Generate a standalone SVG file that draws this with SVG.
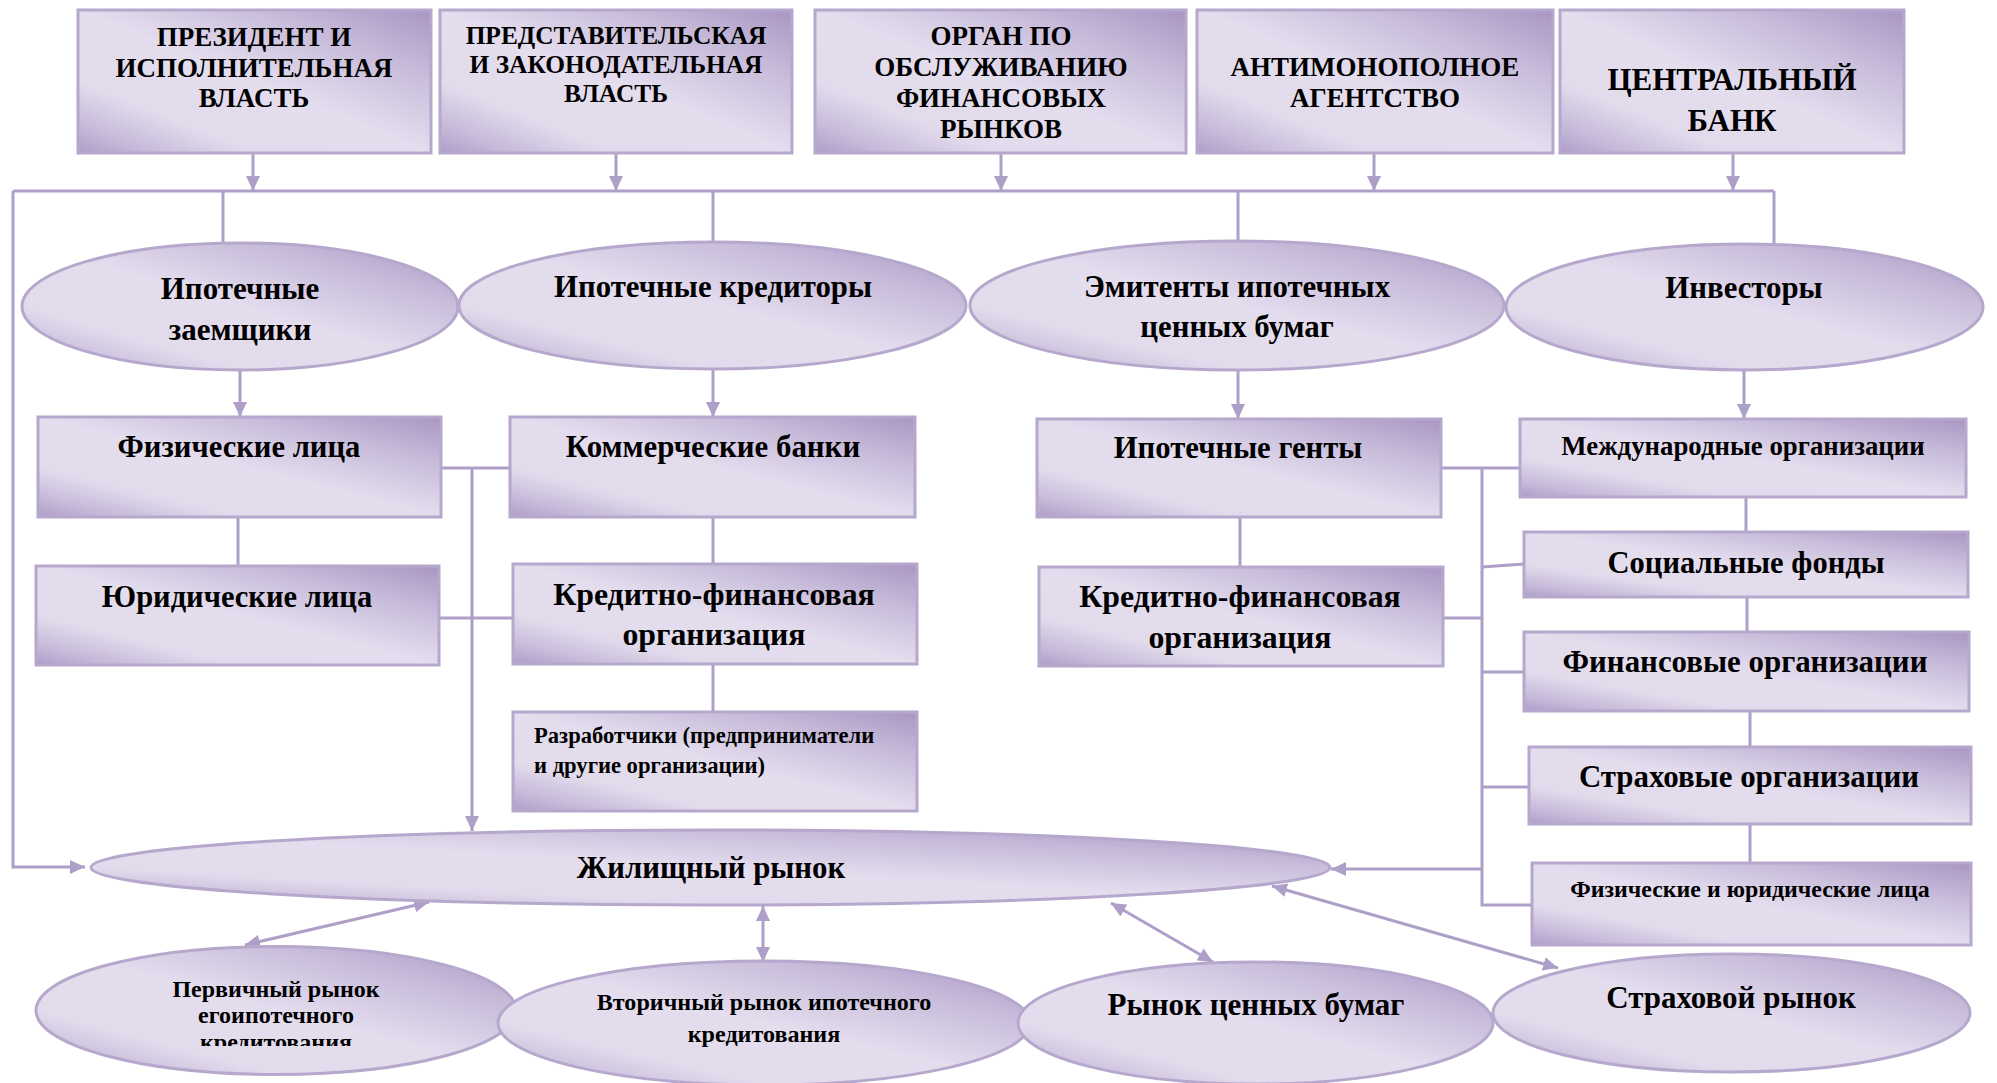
<svg xmlns="http://www.w3.org/2000/svg" width="1997" height="1083" viewBox="0 0 1997 1083">
<style>
.n{fill:url(#g);stroke:#b6a8cd;stroke-width:3}
.t{font-family:"Liberation Serif","Times New Roman",serif;font-weight:bold;fill:#000;text-anchor:middle}
.s{text-anchor:start}
.c{fill:none;stroke:#ae9fc9;stroke-width:3}
.a{marker-end:url(#ah)}
.d{marker-end:url(#ah);marker-start:url(#ah)}
</style>
<defs>
<linearGradient id="g" x1="1" y1="0" x2="0" y2="1">
<stop offset="0" stop-color="#a996c3"/>
<stop offset="0.25" stop-color="#c9bddb"/>
<stop offset="0.5" stop-color="#e4ddee"/>
<stop offset="0.75" stop-color="#e2dbec"/>
<stop offset="0.9" stop-color="#c6b9d9"/>
<stop offset="1" stop-color="#ae9dc8"/>
</linearGradient>
<marker id="ah" viewBox="0 0 15 14" refX="15" refY="7" markerWidth="15" markerHeight="14" markerUnits="userSpaceOnUse" orient="auto-start-reverse">
<path d="M0,0 L15,7 L0,14 z" fill="#ae9fc9"/>
</marker>
<clipPath id="cp1"><rect x="0" y="0" width="1997" height="1046"/></clipPath>
</defs>

<g id="connectors">
<path class="c a" d="M253,153 V191"/>
<path class="c a" d="M616,153 V191"/>
<path class="c a" d="M1001,153 V191"/>
<path class="c a" d="M1374,153 V191"/>
<path class="c a" d="M1733,153 V191"/>
<path class="c" d="M13,191 H1774"/>
<path class="c a" d="M13,191 V867 H85"/>
<path class="c" d="M223,191 V243"/>
<path class="c" d="M713,191 V242"/>
<path class="c" d="M1238,191 V241"/>
<path class="c" d="M1774,191 V244"/>
<path class="c a" d="M240,370 V417"/>
<path class="c a" d="M713,369 V417"/>
<path class="c a" d="M1238,370 V419"/>
<path class="c a" d="M1744,370 V419"/>
<path class="c" d="M441,468 H510"/>
<path class="c" d="M439,618 H513"/>
<path class="c a" d="M472,468 V831"/>
<path class="c" d="M238,517 V566"/>
<path class="c" d="M713,517 V564"/>
<path class="c" d="M713,664 V712"/>
<path class="c" d="M1240,517 V567"/>
<path class="c" d="M1441,468 H1520"/>
<path class="c" d="M1482,468 V905 H1532"/>
<path class="c" d="M1443,618 H1482"/>
<path class="c" d="M1482,567 L1524,564"/>
<path class="c" d="M1482,672 H1524"/>
<path class="c" d="M1482,787 H1529"/>
<path class="c a" d="M1482,869 H1331"/>
<path class="c" d="M1746,497 V532"/>
<path class="c" d="M1747,597 V632"/>
<path class="c" d="M1750,711 V747"/>
<path class="c" d="M1750,824 V863"/>
<path class="c d" d="M245,945 L429,902"/>
<path class="c d" d="M763,906 V962"/>
<path class="c d" d="M1111,903 L1213,962"/>
<path class="c d" d="M1272,886 L1558,968"/>
</g>

<g id="president"><rect class="n" x="78" y="10" width="353" height="143"/>
<text class="t" font-size="27" x="254" y="46">ПРЕЗИДЕНТ И</text>
<text class="t" font-size="27" x="254" y="77">ИСПОЛНИТЕЛЬНАЯ</text>
<text class="t" font-size="27" x="254" y="107">ВЛАСТЬ</text></g>

<g id="legislative"><rect class="n" x="440" y="10" width="352" height="143"/>
<text class="t" font-size="25.4" x="616" y="44">ПРЕДСТАВИТЕЛЬСКАЯ</text>
<text class="t" font-size="25.4" x="616" y="73">И ЗАКОНОДАТЕЛЬНАЯ</text>
<text class="t" font-size="25.4" x="616" y="102">ВЛАСТЬ</text></g>

<g id="finmarkets"><rect class="n" x="815" y="10" width="371" height="143"/>
<text class="t" font-size="27" x="1001" y="45">ОРГАН ПО</text>
<text class="t" font-size="27" x="1001" y="76">ОБСЛУЖИВАНИЮ</text>
<text class="t" font-size="27" x="1001" y="107">ФИНАНСОВЫХ</text>
<text class="t" font-size="27" x="1001" y="138">РЫНКОВ</text></g>

<g id="antimonopoly"><rect class="n" x="1197" y="10" width="356" height="143"/>
<text class="t" font-size="27" x="1375" y="76">АНТИМОНОПОЛНОЕ</text>
<text class="t" font-size="27" x="1375" y="107">АГЕНТСТВО</text></g>

<g id="centralbank"><rect class="n" x="1560" y="10" width="344" height="143"/>
<text class="t" font-size="31" x="1732" y="90">ЦЕНТРАЛЬНЫЙ</text>
<text class="t" font-size="31" x="1732" y="131">БАНК</text></g>

<g id="borrowers"><ellipse class="n" cx="240" cy="306.5" rx="218" ry="63.5"/>
<text class="t" font-size="31" x="240" y="299">Ипотечные</text>
<text class="t" font-size="31" x="240" y="340">заемщики</text></g>

<g id="lenders"><ellipse class="n" cx="712.5" cy="305.5" rx="253.5" ry="63.5"/>
<text class="t" font-size="30.8" x="713" y="297">Ипотечные кредиторы</text></g>

<g id="issuers"><ellipse class="n" cx="1237" cy="305.5" rx="267" ry="64.5"/>
<text class="t" font-size="30.8" x="1237" y="297">Эмитенты ипотечных</text>
<text class="t" font-size="30.8" x="1237" y="337">ценных бумаг</text></g>

<g id="investors"><ellipse class="n" cx="1744.5" cy="307" rx="238.5" ry="63"/>
<text class="t" font-size="30.8" x="1744" y="298">Инвесторы</text></g>

<g id="individuals"><rect class="n" x="38" y="417" width="403" height="100"/>
<text class="t" font-size="30.6" x="239" y="457">Физические лица</text></g>

<g id="commercial"><rect class="n" x="510" y="417" width="405" height="100"/>
<text class="t" font-size="30.9" x="713" y="457">Коммерческие банки</text></g>

<g id="agents"><rect class="n" x="1037" y="419" width="404" height="98"/>
<text class="t" font-size="30.7" x="1238" y="458">Ипотечные генты</text></g>

<g id="international"><rect class="n" x="1520" y="419" width="446" height="78"/>
<text class="t" font-size="26.8" x="1743" y="455">Международные организации</text></g>

<g id="legal"><rect class="n" x="36" y="566" width="403" height="99"/>
<text class="t" font-size="30.5" x="237" y="607">Юридические лица</text></g>

<g id="creditfin1"><rect class="n" x="513" y="564" width="404" height="100"/>
<text class="t" font-size="31.8" x="714" y="605">Кредитно-финансовая</text>
<text class="t" font-size="31.8" x="714" y="645">организация</text></g>

<g id="developers"><rect class="n" x="513" y="712" width="404" height="99"/>
<text class="t s" font-size="22.6" x="534" y="743">Разработчики (предприниматели</text>
<text class="t s" font-size="22.6" x="534" y="773">и другие организации)</text></g>

<g id="creditfin2"><rect class="n" x="1039" y="567" width="404" height="99"/>
<text class="t" font-size="31.8" x="1240" y="607">Кредитно-финансовая</text>
<text class="t" font-size="31.8" x="1240" y="648">организация</text></g>

<g id="social"><rect class="n" x="1524" y="532" width="444" height="65"/>
<text class="t" font-size="30.5" x="1746" y="573">Социальные фонды</text></g>

<g id="financial"><rect class="n" x="1524" y="632" width="445" height="79"/>
<text class="t" font-size="30.9" x="1745" y="672">Финансовые организации</text></g>

<g id="insurance"><rect class="n" x="1529" y="747" width="442" height="77"/>
<text class="t" font-size="30.9" x="1749" y="787">Страховые организации</text></g>

<g id="fizyur"><rect class="n" x="1532" y="863" width="439" height="82"/>
<text class="t" font-size="23.9" x="1750" y="897">Физические и юридические лица</text></g>

<g id="housing"><ellipse class="n" cx="710.5" cy="867.5" rx="619.5" ry="37.5"/>
<text class="t" font-size="30.8" x="711" y="878">Жилищный рынок</text></g>

<g id="primary"><ellipse class="n" cx="276" cy="1010.5" rx="240" ry="64"/>
<text class="t" font-size="24" x="276" y="997">Первичный рынок</text>
<text class="t" font-size="24" x="276" y="1023">егоипотечного</text>
<text class="t" font-size="24" x="276" y="1050" clip-path="url(#cp1)">кредитования</text></g>

<g id="secondary"><ellipse class="n" cx="764" cy="1023" rx="266" ry="62"/>
<text class="t" font-size="24.1" x="764" y="1010">Вторичный рынок ипотечного</text>
<text class="t" font-size="24.1" x="764" y="1042">кредитования</text></g>

<g id="securities"><ellipse class="n" cx="1255.5" cy="1023" rx="237.5" ry="61"/>
<text class="t" font-size="31" x="1256" y="1015">Рынок ценных бумаг</text></g>

<g id="insmarket"><ellipse class="n" cx="1731.5" cy="1013" rx="238.5" ry="59"/>
<text class="t" font-size="31" x="1731" y="1008">Страховой рынок</text></g>
</svg>
